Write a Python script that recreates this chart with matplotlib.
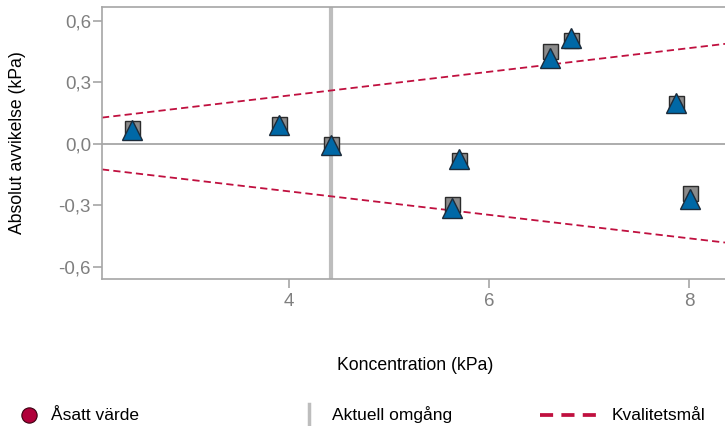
import numpy as np
import matplotlib
matplotlib.use("Agg")
import matplotlib.pyplot as plt
from matplotlib.lines import Line2D
from matplotlib.ticker import FuncFormatter

plt.rcParams['font.family'] = ['Liberation Sans', 'DejaVu Sans']

# data
conc = [2.43, 3.90, 4.42, 5.70, 5.63, 6.61, 6.82, 7.87, 8.01]
dev_square = [0.075, 0.097, -0.002, -0.080, -0.293, 0.452, 0.507, 0.200, -0.240]
dev_triangle = [0.068, 0.094, -0.006, -0.072, -0.315, 0.420, 0.517, 0.198, -0.267]

current_round = 4.42

limit_x = [2.13, 8.36]
limit_upper = [0.128, 0.488]
limit_lower = [-0.125, -0.482]

grey_txt = "#7f7f7f"
crimson = "#c0103f"

fig = plt.figure(figsize=(7.25, 4.26), dpi=100)
ax = fig.add_axes([102/725, 1 - 279/426, 1 - 102/725, (279 - 7)/426])

ax.axhline(0, color="#a6a6a6", lw=1.3, zorder=1)
ax.axvline(current_round, color="#bdbdbd", lw=3, zorder=2)
ax.plot(limit_x, limit_upper, ls=(0, (4.0, 2.3)), color=crimson, lw=1.3, zorder=2)
ax.plot(limit_x, limit_lower, ls=(0, (4.0, 2.3)), color=crimson, lw=1.3, zorder=2)

ax.plot(conc, dev_square, ls="none", marker="s", ms=10.8, mfc="#8a8a8a",
        mec="#2b2b2b", mew=1.0, zorder=3)
ax.plot(conc, dev_triangle, ls="none", marker="^", ms=13.8, mfc="#0068a6",
        mec="#1c2b3a", mew=1.0, zorder=4)

ax.set_xlim(2.13, 8.36)
ax.set_ylim(-0.66, 0.668)
ax.set_xticks([4, 6, 8])
ax.set_yticks([-0.6, -0.3, 0.0, 0.3, 0.6])
ax.yaxis.set_major_formatter(FuncFormatter(lambda v, p: f"{v:.1f}".replace(".", ",")))

for s in ["top", "left", "bottom"]:
    ax.spines[s].set_color("#a6a6a6")
    ax.spines[s].set_linewidth(1.2)
ax.spines["right"].set_visible(False)
ax.tick_params(colors="#a6a6a6", labelcolor=grey_txt, labelsize=13.5, length=6.5, width=1.2)
ax.tick_params(axis="y", pad=1.5)
ax.tick_params(axis="x", pad=3.5)

ax.set_ylabel("Absolut avvikelse (kPa)", fontsize=12.7, va="center")
ax.yaxis.set_label_coords((18 - 102) / 623, 0.5)
fig.text(415/725, 1 - 365/426, "Koncentration (kPa)", fontsize=12.7,
         ha="center", va="center")

# legend row
ly = 1 - 415/426
fig.add_artist(Line2D([29/725], [ly], marker="o", ms=11, mfc="#b0003a",
                      mec="#3a0010", mew=0.8, transform=fig.transFigure))
fig.text(51/725, ly, "Åsatt värde", fontsize=12.5, va="center")
fig.add_artist(Line2D([309/725, 309/725], [1 - 404/426, 1 - 428/426], color="#bdbdbd",
                      lw=2.5, transform=fig.transFigure))
fig.text(332/725, ly, "Aktuell omgång", fontsize=12.5, va="center")
fig.add_artist(Line2D([540/725, 597/725], [ly, ly], color=crimson, lw=2.7,
                      ls=(0, (3.5, 2.2)), transform=fig.transFigure))
fig.text(612/725, ly, "Kvalitetsmål", fontsize=12.5, va="center")

fig.savefig("out.png", dpi=100)
